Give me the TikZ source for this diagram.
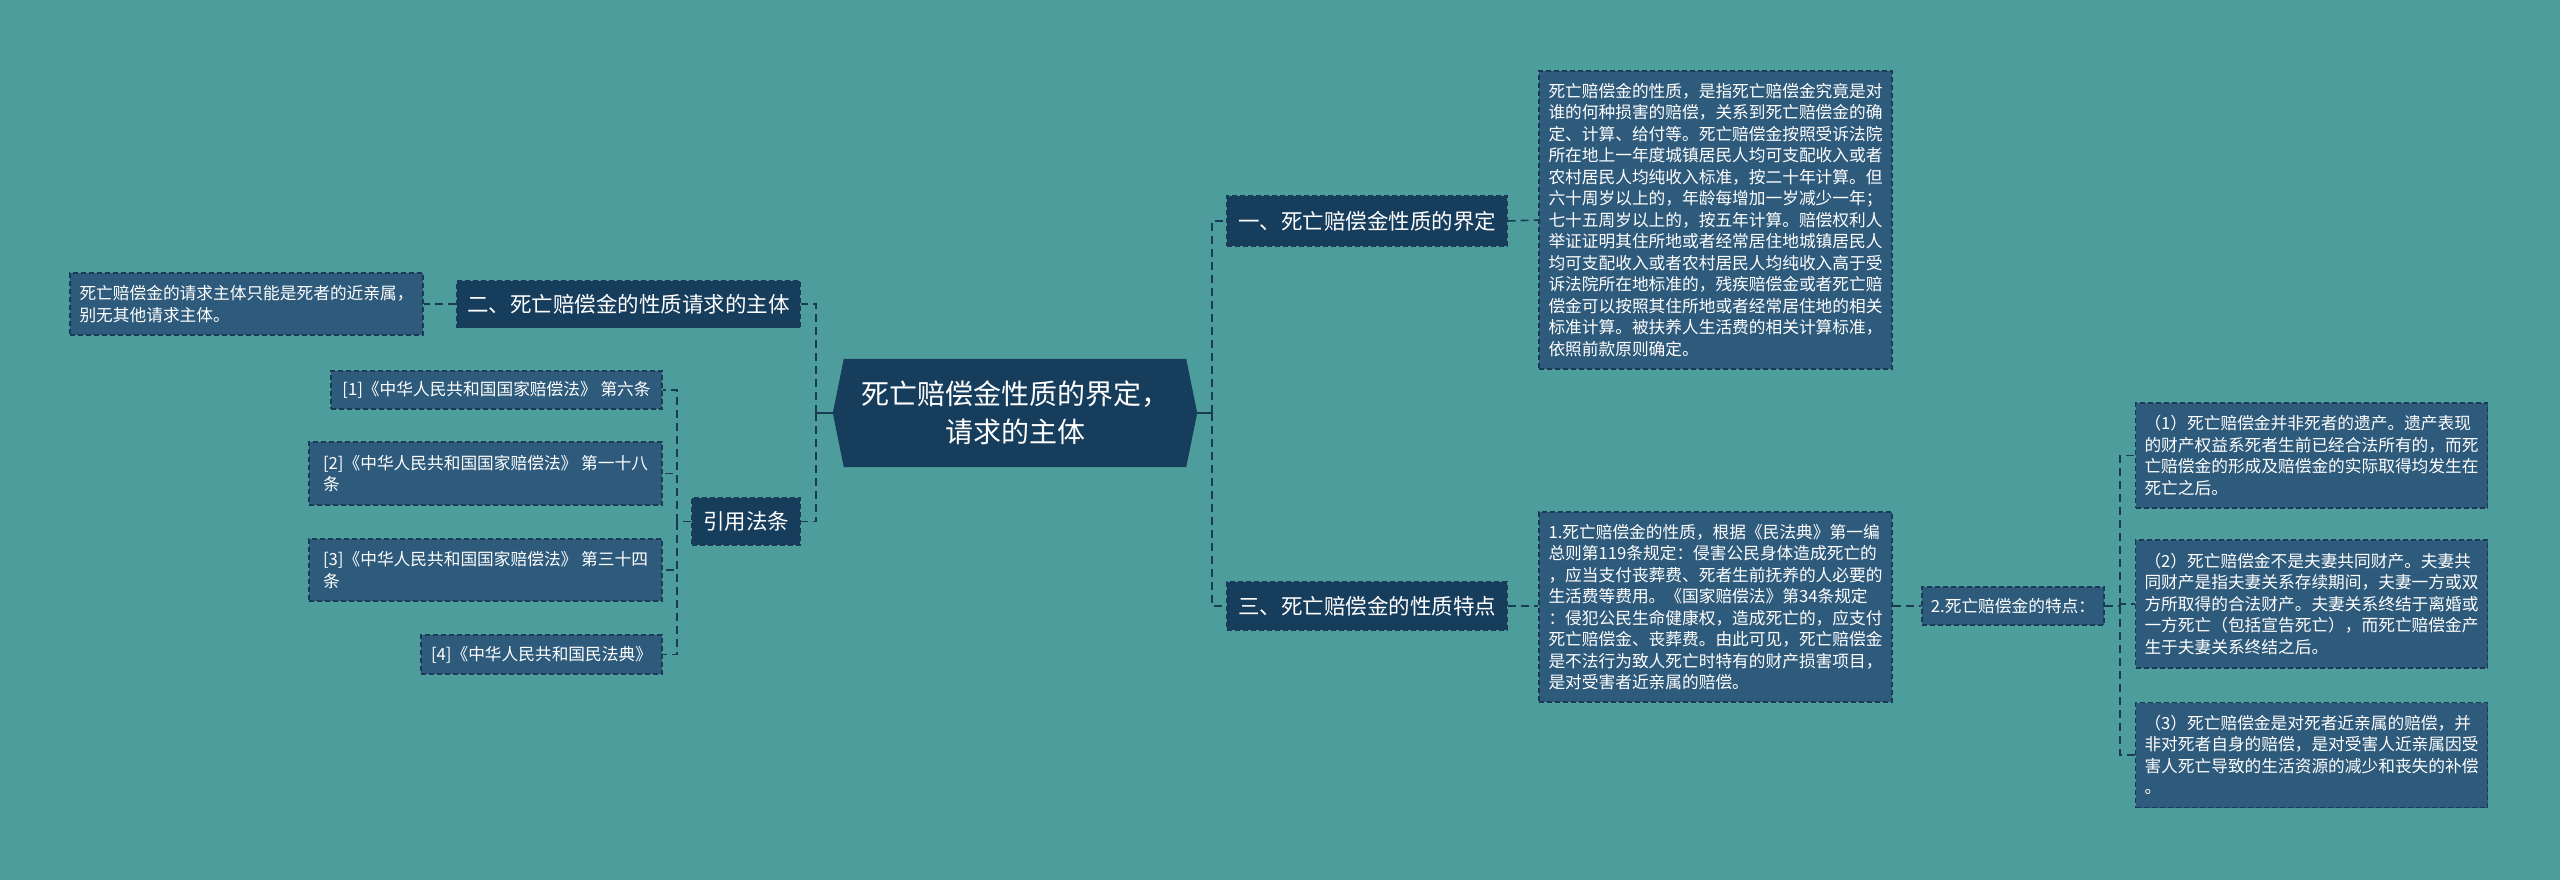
\documentclass[tikz,border=0pt]{standalone}
\usepackage{fontspec}
\setmainfont{Noto Sans CJK SC}
\usetikzlibrary{backgrounds}
\definecolor{bgc}{HTML}{4E9D9D}
\definecolor{mainc}{HTML}{173D5C}
\definecolor{leafc}{HTML}{2E5A7B}
\definecolor{linec}{HTML}{1A3A56}
\tikzset{
  leaf/.style={draw=linec, line width=1.1pt, dash pattern=on 5pt off 3pt, fill=leafc, text=white,
    font=\fontsize{16.7}{21.5}\selectfont, align=left, inner sep=0pt},
  mainbox/.style={draw=linec, line width=1.1pt, dash pattern=on 5pt off 3pt, fill=mainc, text=white,
    font=\fontsize{21.5}{26}\selectfont, inner sep=0pt},
  conn/.style={draw=linec, line width=1.6pt, dash pattern=on 8pt off 5pt},
  solidconn/.style={draw=linec, line width=2pt},
}
\begin{document}
\begin{tikzpicture}[x=1pt,y=-1pt]
\useasboundingbox (0,0) rectangle (2560,880);
% root
\node[text=white, font=\fontsize{28}{38}\selectfont, align=center, inner sep=0pt,
  minimum width=364pt, minimum height=108pt] (root) at (1015,413) {死亡赔偿金性质的界定，\\请求的主体};
\begin{scope}[on background layer]
\fill[bgc] (0,0) rectangle (2560,880);
\fill[mainc] ([xshift=11pt]root.north west) -- ([xshift=-11pt]root.north east) -- (root.east)
  -- ([xshift=-11pt]root.south east) -- ([xshift=11pt]root.south west) -- (root.west) -- cycle;
\end{scope}

% right branches
\node[mainbox, minimum width=280pt, minimum height=50pt] (b1) at (1367,221) {一、死亡赔偿金性质的界定};
\node[mainbox, minimum width=280pt, minimum height=48pt] (b3) at (1367,606) {三、死亡赔偿金的性质特点};
% left branches
\node[mainbox, minimum width=343pt, minimum height=47pt] (b2) at (628.5,304) {二、死亡赔偿金的性质请求的主体};
\node[mainbox, minimum width=108pt, minimum height=47pt] (ref) at (746,521.5) {引用法条};

% leaves right
\node[leaf, minimum width=353pt, minimum height=298pt] (box1) at (1715.5,220) {死亡赔偿金的性质，是指死亡赔偿金究竟是对\\谁的何种损害的赔偿，关系到死亡赔偿金的确\\定、计算、给付等。死亡赔偿金按照受诉法院\\所在地上一年度城镇居民人均可支配收入或者\\农村居民人均纯收入标准，按二十年计算。但\\六十周岁以上的，年龄每增加一岁减少一年；\\七十五周岁以上的，按五年计算。赔偿权利人\\举证证明其住所地或者经常居住地城镇居民人\\均可支配收入或者农村居民人均纯收入高于受\\诉法院所在地标准的，残疾赔偿金或者死亡赔\\偿金可以按照其住所地或者经常居住地的相关\\标准计算。被扶养人生活费的相关计算标准，\\依照前款原则确定。};
\node[leaf, minimum width=353pt, minimum height=190pt] (box2) at (1715.5,607) {1.死亡赔偿金的性质，根据《民法典》第一编\\总则第119条规定：侵害公民身体造成死亡的\\，应当支付丧葬费、死者生前抚养的人必要的\\生活费等费用。《国家赔偿法》第34条规定\\：侵犯公民生命健康权，造成死亡的，应支付\\死亡赔偿金、丧葬费。由此可见，死亡赔偿金\\是不法行为致人死亡时特有的财产损害项目，\\是对受害者近亲属的赔偿。};
\node[leaf, minimum width=182pt, minimum height=38pt] (tz) at (2013,606) {2.死亡赔偿金的特点：};
\node[leaf, minimum width=352pt, minimum height=105pt] (c1) at (2311.5,455.5) {（1）死亡赔偿金并非死者的遗产。遗产表现\\的财产权益系死者生前已经合法所有的，而死\\亡赔偿金的形成及赔偿金的实际取得均发生在\\死亡之后。};
\node[leaf, minimum width=352pt, minimum height=128pt] (c2) at (2311.5,604) {（2）死亡赔偿金不是夫妻共同财产。夫妻共\\同财产是指夫妻关系存续期间，夫妻一方或双\\方所取得的合法财产。夫妻关系终结于离婚或\\一方死亡（包括宣告死亡），而死亡赔偿金产\\生于夫妻关系终结之后。};
\node[leaf, minimum width=352pt, minimum height=105pt] (c3) at (2311.5,755) {（3）死亡赔偿金是对死者近亲属的赔偿，并\\非对死者自身的赔偿，是对受害人近亲属因受\\害人死亡导致的生活资源的减少和丧失的补偿\\。};

% leaves left
\node[leaf, minimum width=353pt, minimum height=62pt] (lbox) at (246.5,304) {死亡赔偿金的请求主体只能是死者的近亲属，\\别无其他请求主体。};
\node[leaf, minimum width=331pt, minimum height=38pt] (r1) at (496.5,390) {[1]《中华人民共和国国家赔偿法》 第六条};
\node[leaf, minimum width=353pt, minimum height=63pt] (r2) at (485.5,473.5) {[2]《中华人民共和国国家赔偿法》 第一十八\\条};
\node[leaf, minimum width=353pt, minimum height=62pt] (r3) at (485.5,570) {[3]《中华人民共和国国家赔偿法》 第三十四\\条};
\node[leaf, minimum width=241pt, minimum height=39pt] (r4) at (541.5,654.5) {[4]《中华人民共和国民法典》};

% junction coordinates
\coordinate (rj) at (1212,413);
\coordinate (lj) at (816,413);
\coordinate (cj) at (2120,606);
\coordinate (fj) at (677,521.5);

% connectors
\draw[solidconn] (root.east) -- (rj);
\draw[solidconn] (root.west) -- (lj);
\draw[conn] (rj) |- (b1.west);
\draw[conn] (rj) |- (b3.west);
\draw[conn] (lj) |- (b2.east);
\draw[conn] (lj) |- (ref.east);
\draw[conn] (b1.east) -- (box1.west);
\draw[conn] (b3.east) -- (box2.west |- b3.east);
\draw[conn] (box2.east |- tz.west) -- (tz.west);
\draw[conn] (tz.east) -- (cj);
\draw[conn] (cj) |- (c1.west);
\draw[conn] (cj) |- (c2.west);
\draw[conn] (cj) |- (c3.west);
\draw[conn] (b2.west) -- (lbox.east);
\draw[conn] (ref.west) -- (fj);
\draw[conn] (fj) |- (r1.east);
\draw[conn] (fj) |- (r2.east);
\draw[conn] (fj) |- (r3.east);
\draw[conn] (fj) |- (r4.east);
\end{tikzpicture}
\end{document}
